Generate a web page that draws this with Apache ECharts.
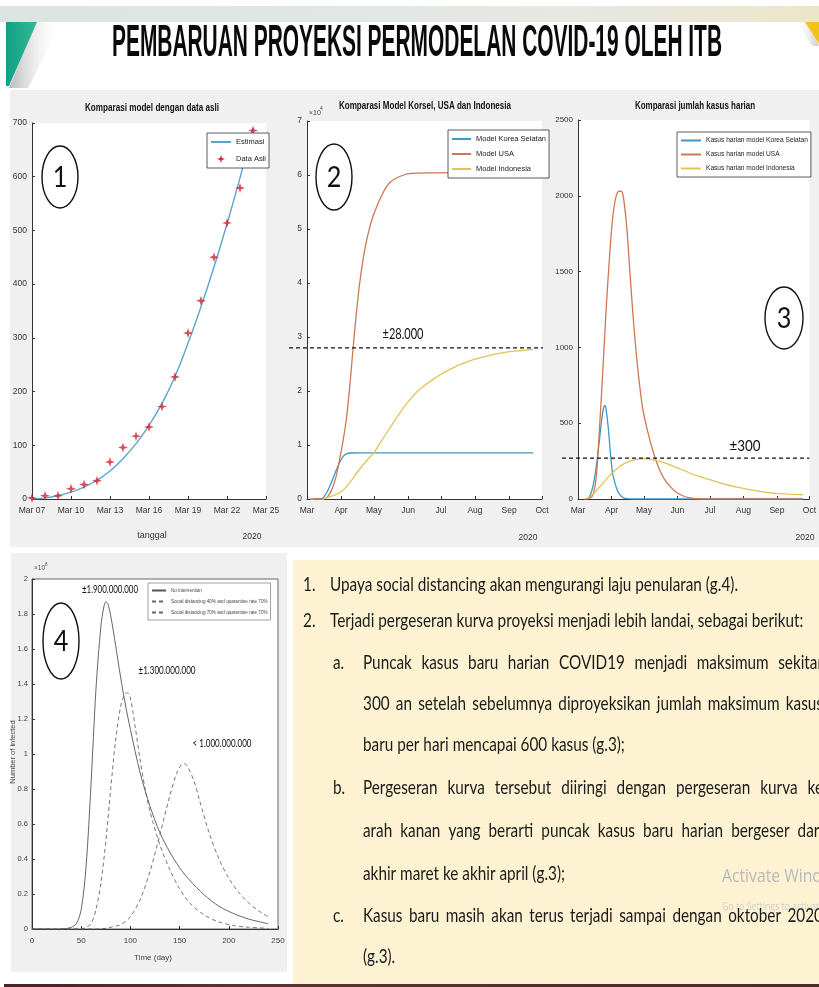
<!DOCTYPE html>
<html><head><meta charset="utf-8">
<script src="https://cdn.jsdelivr.net/npm/echarts@6/dist/echarts.min.js"></script>
<style>html,body{margin:0;padding:0;background:#fff}#c{width:819px;height:987px}</style>
</head><body><div id="c"></div>
<script>
// ---------------- DATA ----------------
const mainTitle = 'PEMBARUAN PROYEKSI PERMODELAN COVID-19 OLEH ITB';
const c1Title = 'Komparasi model dengan data asli';
const c2Title = 'Komparasi Model Korsel, USA dan Indonesia';
const c3Title = 'Komparasi jumlah kasus harian';

// Chart 1: days since Mar 07
const c1DataAsli = [2, 6, 6, 19, 27, 34, 69, 96, 117, 134, 172, 227, 309, 369, 450, 514, 579, 686];
const c1Estimasi = [0, 2, 6, 13, 22, 35, 52, 75, 103, 137, 178, 228, 290, 358, 432, 512, 598, 690];
const c1TickDays = [7, 10, 13, 16, 19, 22, 25];

// Chart 2/3 month ticks (days since Mar 1)
const monthNames = ['Mar', 'Apr', 'May', 'Jun', 'Jul', 'Aug', 'Sep', 'Oct'];
const monthStartDay = [0, 31, 61, 92, 122, 153, 184, 214];

// Chart 2: cumulative cases [day since Mar 1, cases]
const c2Korea = [[3,0],[12,0],[15,300],[18,1200],[21,2500],[24,4000],[27,5500],[30,6900],[33,7900],[36,8350],[40,8520],[50,8560],[206,8560]];
const c2USA = [[3,0],[15,0],[18,300],[21,1100],[24,2500],[27,4600],[30,7600],[33,11000],[36,15000],[39,21000],[42,28000],[45,34500],[48,40000],[51,44300],[54,47600],[57,50200],[60,52300],[64,54400],[68,56200],[72,57700],[76,58700],[81,59400],[88,60000],[95,60300],[110,60400],[206,60500]];
const c2Indonesia = [[3,0],[8,-250],[13,-200],[17,150],[22,500],[27,900],[31,1300],[36,2300],[41,3600],[46,5000],[51,6300],[56,7500],[61,8600],[68,10800],[75,13000],[83,15500],[92,18000],[100,19800],[107,21000],[115,22200],[122,23100],[130,24000],[138,24800],[146,25400],[153,25900],[161,26300],[168,26700],[176,27000],[184,27300],[195,27500],[206,27700]];
const c2RefValue = 28000;
const c2RefLabel = '±28.000';

// Chart 3: daily cases [day since Mar 1, cases]
const c3Korea = [[8,0],[11,20],[14,90],[17,220],[20,400],[22,530],[24,610],[25,615],[26,590],[28,470],[30,300],[32,170],[34,110],[36,65],[38,35],[41,12],[45,2],[50,0],[208,0]];
const c3USA = [[8,0],[11,5],[14,30],[17,150],[20,480],[23,850],[26,1250],[29,1580],[32,1850],[35,1990],[38,2030],[40,2030],[42,1990],[45,1800],[48,1500],[51,1200],[54,950],[57,750],[60,590],[65,430],[70,300],[75,200],[80,130],[85,85],[90,50],[98,18],[105,6],[112,1],[120,0],[208,0]];
const c3Indonesia = [[6,0],[10,8],[15,40],[20,80],[25,120],[30,160],[35,195],[40,222],[46,245],[52,258],[58,265],[62,266],[67,262],[76,248],[84,228],[92,205],[100,182],[107,160],[115,143],[122,127],[130,110],[138,94],[145,82],[153,70],[160,60],[168,50],[175,43],[183,37],[195,32],[208,28]];
const c3RefValue = 270;
const c3RefLabel = '±300';

// Chart 4: infected (units of 10^8) [day, value]
const c4NoIntervention = [[0,0],[30,0],[35,0.003],[40,0.01],[45,0.03],[50,0.11],[55,0.36],[60,0.83],[65,1.37],[70,1.73],[73,1.84],[75,1.87],[77,1.86],[80,1.79],[85,1.62],[90,1.44],[95,1.28],[100,1.14],[110,0.89],[120,0.7],[130,0.55],[140,0.44],[150,0.35],[160,0.28],[175,0.195],[190,0.13],[205,0.088],[220,0.057],[240,0.03]];
const c4SD40 = [[0,0],[50,0],[55,0.01],[60,0.03],[65,0.11],[70,0.26],[75,0.5],[80,0.8],[85,1.08],[90,1.27],[94,1.34],[97,1.35],[100,1.32],[105,1.15],[110,0.96],[115,0.8],[120,0.67],[130,0.48],[140,0.34],[150,0.23],[160,0.15],[175,0.08],[190,0.04],[205,0.02],[220,0.01],[240,0.004]];
const c4SD70 = [[0,0],[70,0],[80,0.01],[90,0.025],[100,0.07],[110,0.17],[120,0.33],[130,0.54],[140,0.76],[147,0.89],[152,0.94],[155,0.945],[158,0.93],[165,0.84],[170,0.74],[180,0.55],[190,0.4],[200,0.29],[210,0.21],[220,0.15],[230,0.105],[240,0.07]];
const c4PeakLabels = ['±1.900.000.000', '±1.300.000.000', '< 1.000.000.000'];

// Text panel
const panelLines = [
  {num: '1.', text: 'Upaya social distancing akan mengurangi laju penularan (g.4).'},
  {num: '2.', text: 'Terjadi pergeseran kurva proyeksi menjadi lebih landai, sebagai berikut:'},
  {num: 'a.', text: 'Puncak kasus baru harian COVID19 menjadi maksimum sekitar', just: true},
  {num: '', text: '300 an setelah sebelumnya diproyeksikan jumlah maksimum kasus', just: true},
  {num: '', text: 'baru per hari mencapai 600 kasus (g.3);'},
  {num: 'b.', text: 'Pergeseran kurva tersebut diiringi dengan pergeseran kurva ke', just: true},
  {num: '', text: 'arah kanan yang berarti puncak kasus baru harian bergeser dari', just: true},
  {num: '', text: 'akhir maret ke akhir april (g.3);'},
  {num: 'c.', text: 'Kasus baru masih akan terus terjadi sampai dengan oktober 2020', just: true},
  {num: '', text: '(g.3).'}
];

// ---------------- RENDER ----------------
const AXF = '"Liberation Sans Narrow","Liberation Sans",Arial,sans-serif';
const BLUE = '#3f97c4', ORANGE = '#cf7652', YELLOW = '#e2c356';
const chart = echarts.init(document.getElementById('c'), null, {renderer: 'canvas', width: 819, height: 987});

function ax(extra) {
  return Object.assign({
    axisLine: {show: true, onZero: false, lineStyle: {color: '#333', width: 1}},
    axisTick: {show: true, inside: true, length: 3, lineStyle: {color: '#333'}},
    axisLabel: {color: '#333', fontSize: 8.5, fontFamily: AXF, margin: 5},
    splitLine: {show: false}
  }, extra);
}
const monthLabel = v => { const i = monthStartDay.indexOf(Math.round(v)); return i >= 0 ? monthNames[i] : ''; };
const legendBase = {orient: 'vertical', selectedMode: false, borderColor: '#333', borderWidth: 0.8, backgroundColor: '#fff',
  itemStyle: {opacity: 0}, textStyle: {color: '#222', fontFamily: AXF}, z: 20};

const lineS = (name, data, color, xi, extra) => Object.assign({
  name, type: 'line', data, xAxisIndex: xi, yAxisIndex: xi, symbol: 'none', smooth: 0.3,
  lineStyle: {color, width: 1.3}, itemStyle: {color}, clip: true, z: 3
}, extra || {});

const starPath = 'path://M0,-10 L2.4,-2.4 L10,0 L2.4,2.4 L0,10 L-2.4,2.4 L-10,0 L-2.4,-2.4 Z';

const option = {
  animation: false,
  backgroundColor: 'transparent',
  grid: [
    {left: 32, top: 123, width: 234, height: 376, show: true, backgroundColor: '#fff', borderWidth: 0},
    {left: 307, top: 121, width: 235, height: 378, show: true, backgroundColor: '#fff', borderWidth: 0},
    {left: 578, top: 120, width: 234, height: 379, show: true, backgroundColor: '#fff', borderWidth: 0},
    {left: 32, top: 579, width: 246, height: 350, show: true, backgroundColor: '#fff', borderWidth: 1, borderColor: '#666'}
  ],
  xAxis: [
    ax({gridIndex: 0, type: 'value', min: 0, max: 18, interval: 3,
      axisLabel: {color: '#333', fontSize: 8.5, fontFamily: AXF, margin: 7,
        formatter: v => 'Mar ' + String(c1TickDays[0] + v).padStart(2, '0')}}),
    ax({gridIndex: 1, type: 'value', min: 0, max: 214,
      axisTick: {show: true, inside: true, length: 3, lineStyle: {color: '#333'}, customValues: monthStartDay},
      axisLabel: {color: '#333', fontSize: 8.5, fontFamily: AXF, margin: 7, customValues: monthStartDay, formatter: monthLabel}}),
    ax({gridIndex: 2, type: 'value', min: 0, max: 214,
      axisTick: {show: true, inside: true, length: 3, lineStyle: {color: '#333'}, customValues: monthStartDay},
      axisLabel: {color: '#333', fontSize: 8.5, fontFamily: AXF, margin: 7, customValues: monthStartDay, formatter: monthLabel}}),
    ax({gridIndex: 3, type: 'value', min: 0, max: 250, interval: 50,
      axisLabel: {color: '#444', fontSize: 8, fontFamily: AXF, margin: 8}})
  ],
  yAxis: [
    ax({gridIndex: 0, type: 'value', min: 0, max: 700, interval: 100}),
    ax({gridIndex: 1, type: 'value', min: 0, max: 70000, interval: 10000,
      axisLabel: {color: '#333', fontSize: 8.5, fontFamily: AXF, margin: 5, formatter: v => String(v / 10000)}}),
    ax({gridIndex: 2, type: 'value', min: 0, max: 2500, interval: 500,
      axisLabel: {color: '#333', fontSize: 8, fontFamily: AXF, margin: 5, formatter: v => String(v)}}),
    ax({gridIndex: 3, type: 'value', min: 0, max: 2, interval: 0.2,
      axisLabel: {color: '#444', fontSize: 7.5, fontFamily: AXF, margin: 4, formatter: v => String(+v.toFixed(1))}})
  ],
  legend: [
    Object.assign({}, legendBase, {data: [{name: 'Estimasi', itemStyle: {opacity: 0}}, {name: 'Data Asli', itemStyle: {opacity: 1}}],
      itemStyle: {}, left: 207, top: 133, itemGap: 9, itemWidth: 20, itemHeight: 8,
      padding: [5, 3, 5, 3], textStyle: {fontSize: 7.5, color: '#222', fontFamily: AXF}}),
    Object.assign({}, legendBase, {data: ['Model Korea Selatan', 'Model USA', 'Model Indonesia'], left: 448, top: 130, itemGap: 7,
      itemWidth: 19, itemHeight: 8, padding: [5, 3, 5, 3], textStyle: {fontSize: 7.5, color: '#222', fontFamily: AXF}}),
    Object.assign({}, legendBase, {data: ['Kasus harian model Korea Selatan', 'Kasus harian model USA', 'Kasus harian model Indonesia'],
      left: 677, top: 132, itemGap: 7, itemWidth: 20, itemHeight: 8, padding: [5, 3, 5, 3],
      textStyle: {fontSize: 6.6, color: '#222', fontFamily: AXF}}),
    Object.assign({}, legendBase, {data: ['No intervention', 'Social distancing 40% and quarantine rate 70%', 'Social distancing 70% and quarantine rate 70%'],
      left: 148, top: 583, itemGap: 6, itemWidth: 14, itemHeight: 5, padding: [5, 3, 5, 3], borderColor: '#888',
      textStyle: {fontSize: 4.6, color: '#444', fontFamily: AXF}})
  ],
  series: [
    lineS('Estimasi', c1Estimasi.map((v, i) => [i, v]), '#5aa6c8', 0, {lineStyle: {color: '#5aa6c8', width: 1.4}, smooth: true}),
    {name: 'Data Asli', type: 'scatter', xAxisIndex: 0, yAxisIndex: 0, data: c1DataAsli.map((v, i) => [i, v]),
      symbol: starPath, symbolSize: 10, itemStyle: {color: '#d2202f'}, z: 4},
    lineS('Model Korea Selatan', c2Korea, BLUE, 1),
    lineS('Model USA', c2USA, ORANGE, 1),
    lineS('Model Indonesia', c2Indonesia, YELLOW, 1),
    lineS('Kasus harian model Korea Selatan', c3Korea, BLUE, 2),
    lineS('Kasus harian model USA', c3USA, ORANGE, 2),
    lineS('Kasus harian model Indonesia', c3Indonesia, YELLOW, 2),
    lineS('No intervention', c4NoIntervention, '#555', 3, {lineStyle: {color: '#555', width: 0.9}}),
    lineS('Social distancing 40% and quarantine rate 70%', c4SD40, '#666', 3, {lineStyle: {color: '#666', width: 0.9, type: [4, 3]}}),
    lineS('Social distancing 70% and quarantine rate 70%', c4SD70, '#666', 3, {lineStyle: {color: '#666', width: 0.9, type: [4, 3]}})
  ]
};
chart.setOption(option);

// ---------- graphic overlay ----------
const mctx = document.createElement('canvas').getContext('2d');
function measure(t, font) { mctx.font = font; return mctx.measureText(t).width; }
function T(text, x, y, o) {
  o = o || {};
  const font = (o.weight || 'normal') + ' ' + (o.size || 12) + 'px ' + (o.family || AXF);
  let sx = o.sx || 1;
  if (o.width) sx = o.width / measure(text, font);
  const st = {text, font, fill: o.color || '#111', textAlign: o.align || 'left', align: o.align || 'left',
    textVerticalAlign: 'middle', verticalAlign: 'middle'};
  if (o.shadow) Object.assign(st, o.shadow);
  return {type: 'text', x, y, scaleX: sx, rotation: o.rotation || 0, z: o.z || 100, silent: true, style: st};
}
const LG = echarts.graphic.LinearGradient;
const g = [];
// backgrounds
g.push({type: 'rect', shape: {x: 0, y: 6, width: 819, height: 16}, z: -10, silent: true,
  style: {fill: new LG(0, 0, 1, 0, [{offset: 0, color: '#dbe4e1'}, {offset: 0.7, color: '#e6e8e3'}, {offset: 1, color: '#ece5c8'}])}});
g.push({type: 'polygon', shape: {points: [[36, 22], [62, 22], [28, 88], [9, 88]]}, z: -10, silent: true,
  style: {fill: new LG(0, 0, 1, 0, [{offset: 0, color: '#b9b9b9'}, {offset: 1, color: 'rgba(255,255,255,0)'}])}});
g.push({type: 'polygon', shape: {points: [[6, 22], [37, 22], [9, 86], [6, 86]]}, z: -9, silent: true,
  style: {fill: new LG(0, 0, 1, 0, [{offset: 0, color: '#10a184'}, {offset: 1, color: '#33b898'}])}});
g.push({type: 'polygon', shape: {points: [[796, 22], [808, 22], [819, 46], [812, 46]]}, z: -10, silent: true,
  style: {fill: new LG(0, 0, 1, 0, [{offset: 0, color: 'rgba(255,255,255,0)'}, {offset: 1, color: '#c8c8c8'}])}});
g.push({type: 'polygon', shape: {points: [[805, 22], [819, 22], [819, 44]]}, z: -9, silent: true, style: {fill: '#f1c21c'}});
g.push({type: 'rect', shape: {x: 10, y: 90, width: 809, height: 457}, z: -10, silent: true, style: {fill: '#f0f0f0'}});
g.push({type: 'rect', shape: {x: 11, y: 553, width: 276, height: 419}, z: -10, silent: true, style: {fill: '#f0f0f0'}});
g.push({type: 'rect', shape: {x: 293, y: 560, width: 526, height: 424}, z: -10, silent: true, style: {fill: '#fdf2d1'}});
g.push({type: 'rect', shape: {x: 4, y: 984, width: 815, height: 3}, z: -10, silent: true,
  style: {fill: new LG(0, 0, 1, 0, [{offset: 0, color: '#4a2226'}, {offset: 0.3, color: '#5b3331'}, {offset: 1, color: '#4a2a2a'}])}});

// main title
g.push(T(mainTitle, 417, 44, {size: 44, weight: 'bold', family: '"Liberation Sans",Arial,sans-serif', align: 'center', width: 610,
  color: '#0a0a0a', shadow: {shadowColor: 'rgba(0,0,0,0.55)', shadowBlur: 4, shadowOffsetX: 1, shadowOffsetY: 2}}));

// chart titles & labels
g.push(T(c1Title, 152, 108, {size: 10, weight: 'bold', align: 'center', width: 134}));
g.push(T(c2Title, 425, 106, {size: 10, weight: 'bold', align: 'center', width: 172}));
g.push(T(c3Title, 695, 106, {size: 10, weight: 'bold', align: 'center', width: 120}));
g.push(T('tanggal', 152, 536, {size: 9, align: 'center', color: '#333'}));
g.push(T('2020', 252, 537, {size: 8.5, align: 'center', color: '#333'}));
g.push(T('2020', 528, 538, {size: 8.5, align: 'center', color: '#333'}));
g.push(T('2020', 805, 538, {size: 8.5, align: 'center', color: '#333'}));
g.push(T('×10', 309, 113, {size: 7, color: '#444'}));
g.push(T('4', 320, 109, {size: 5, color: '#444'}));
g.push(T('×10', 34, 568, {size: 6.5, color: '#555'}));
g.push(T('8', 45, 565, {size: 4.5, color: '#555'}));
g.push(T('Time (day)', 153, 958, {size: 8, align: 'center', color: '#444'}));
g.push(T('Number of infected', 13, 752, {size: 7.5, align: 'center', color: '#444', rotation: Math.PI / 2}));

// circles with numbers
[[60, 177, 18, 31, '1'], [334, 177, 18, 33, '2'], [784, 318, 19, 31, '3'], [61, 641, 18, 38, '4']].forEach(c => {
  g.push({type: 'ellipse', shape: {cx: c[0], cy: c[1], rx: c[2], ry: c[3]}, z: 100, silent: true,
    style: {fill: 'rgba(0,0,0,0)', stroke: '#111', lineWidth: 1.4}});
  g.push(T(c[4], c[0], c[1] + 1, {size: 28, align: 'center', family: 'Lato,sans-serif', sx: 0.9, color: '#111'}));
});

// reference dashed lines via library scales
const y2 = chart.convertToPixel({yAxisIndex: 1}, c2RefValue);
const x2end = chart.convertToPixel({xAxisIndex: 1}, 214);
g.push({type: 'line', shape: {x1: 289, y1: y2, x2: x2end + 1, y2: y2}, z: 90, silent: true,
  style: {stroke: '#111', lineWidth: 1.3, lineDash: [4, 3]}});
g.push(T(c2RefLabel, 403, y2 - 14, {size: 16, family: 'Lato,sans-serif', align: 'center', width: 41}));
const y3 = chart.convertToPixel({yAxisIndex: 2}, c3RefValue);
const x3end = chart.convertToPixel({xAxisIndex: 2}, 214);
g.push({type: 'line', shape: {x1: 562, y1: y3, x2: x3end, y2: y3}, z: 90, silent: true,
  style: {stroke: '#111', lineWidth: 1.3, lineDash: [4, 3]}});
g.push(T(c3RefLabel, 745, y3 - 12, {size: 16, family: 'Lato,sans-serif', align: 'center', width: 31}));

// chart 4 peak labels
g.push(T(c4PeakLabels[0], 110, 589, {size: 12, family: 'Lato,sans-serif', align: 'center', width: 56}));
g.push(T(c4PeakLabels[1], 167, 670, {size: 12, family: 'Lato,sans-serif', align: 'center', width: 57}));
g.push(T(c4PeakLabels[2], 222, 743, {size: 12, family: 'Lato,sans-serif', align: 'center', width: 59}));

// text panel
const PF = 'normal 20px Lato,sans-serif';
const panelScale = 408 / measure(panelLines[0].text, PF);
const lineY = [585, 621, 663, 704, 745, 788, 831, 874, 916, 957];
// watermark
g.push(T('Activate Wind', 722, 877, {size: 19, family: '"Open Sans",sans-serif', color: '#b9b9b9', width: 100, z: 95}));
g.push(T('Go to Settings to activate Windows.', 722, 907, {size: 11, family: '"Open Sans",sans-serif', color: '#cfcfcf', sx: 0.8, z: 95}));
panelLines.forEach((ln, i) => {
  const y = lineY[i];
  const isTop = i < 2;
  const numX = isTop ? 303 : 333;
  const tx = isTop ? 330 : 363;
  if (ln.num) g.push(T(ln.num, numX, y, {size: 20, family: 'Lato,sans-serif', sx: panelScale, color: '#1b1b1b'}));
  if (ln.just) {
    const words = ln.text.split(' ');
    const ws = words.map(w => measure(w, PF) * panelScale);
    const total = ws.reduce((a, b) => a + b, 0);
    const gap = (823 - tx - total) / (words.length - 1);
    let x = tx;
    words.forEach((w, k) => { g.push(T(w, x, y, {size: 20, family: 'Lato,sans-serif', sx: panelScale, color: '#1b1b1b'})); x += ws[k] + gap; });
  } else {
    g.push(T(ln.text, tx, y, {size: 20, family: 'Lato,sans-serif', sx: panelScale, color: '#1b1b1b'}));
  }
});

chart.setOption({graphic: {elements: g}});
</script></body></html>
